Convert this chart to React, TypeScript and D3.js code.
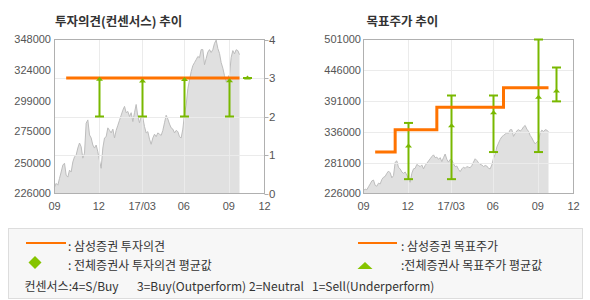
import React from 'react';
import * as d3 from 'd3';

// closing prices, one sample every ~2.5 trading days (index domain 0..126)
const prices = [
  231000, 234000, 232600, 238000, 243000, 248500, 250000, 240500, 239000, 244500,
  243000, 251000, 255000, 256500, 262000, 266000, 263000, 254000, 258000, 281700,
  284300, 272400, 270000, 264400, 262000, 264400, 259000, 252000, 246000, 262000,
  270000, 271000, 278000, 276000, 274000, 277000, 270000, 276000, 280000, 284000,
  288000, 292000, 295000, 290000, 291000, 287000, 290000, 283000, 290000, 296500,
  287000, 282000, 287000, 286000, 279000, 274000, 275000, 269000, 265000, 270000,
  273000, 271000, 274000, 273000, 272000, 276000, 282000, 288000, 285000, 281000,
  278000, 277000, 274000, 276000, 275000, 271000, 270000, 277000, 289000, 296000,
  309000, 316000, 322500, 327300, 329700, 332000, 334500, 333600, 340000, 340000,
  328000, 333000, 338000, 340000, 337700, 340000, 345000, 347500, 340900, 337000,
  329700, 325300, 319300, 314600, 317800, 320100, 333700, 339200, 336600, 339900,
  339200, 336000,
];

const xDomainEnd = 126;
const xTickPos = [0, 26.6, 52.6, 77.6, 104.6, 126];
const xTickLabels = ['09', '12', '17/03', '06', '09', '12'];

const leftPriceTicks = [226000, 250000, 275000, 299000, 324000, 348000];
const opinionTicks = [0, 1, 2, 3, 4];
const targetTicks = [226000, 281000, 336000, 391000, 446000, 501000];

const opinionLine = [
  { i: 7, v: 3 },
  { i: 111, v: 3 },
];
const targetLine = [
  { i: 7, v: 300000 },
  { i: 19, v: 340000 },
  { i: 44, v: 380000 },
  { i: 84, v: 415000 },
  { i: 111, v: 415000 },
];

const opinionBars = [
  { i: 26.6, lo: 2, hi: 3, mean: 2.97 },
  { i: 52.6, lo: 2, hi: 3, mean: 2.92 },
  { i: 77.6, lo: 2, hi: 3, mean: 2.96 },
  { i: 104.6, lo: 2, hi: 3, mean: 2.93 },
  { i: 115.3, lo: 3, hi: 3, mean: 3 },
];
const targetBars = [
  { i: 26.6, lo: 251600, hi: 352000, mean: 311000 },
  { i: 52.6, lo: 251600, hi: 401000, mean: 347000 },
  { i: 77.6, lo: 300000, hi: 401000, mean: 370000 },
  { i: 104.6, lo: 300000, hi: 501000, mean: 398000 },
  { i: 115.3, lo: 390500, hi: 451000, mean: 409000 },
];

const ORANGE = '#ff7300';
const GREEN = '#79b800';
const GRID = '#ebebeb';
const AXIS = '#b0b0b0';
const LABEL = '#555';
const NUM_FONT = '"Liberation Sans", Arial, sans-serif';
const KR_FONT = '"Noto Sans CJK KR", "Noto Sans", sans-serif';

const TOP = 39.5;
const BOTTOM = 193.5;

type Bar = { i: number; lo: number; hi: number; mean: number };

function ErrorBars({ bars, x, y }: { bars: Bar[]; x: d3.ScaleLinear<number, number>; y: d3.ScaleLinear<number, number> }) {
  return (
    <g stroke={GREEN} strokeWidth={2} fill="none">
      {bars.map((b, k) => {
        const cx = Math.round(x(b.i)) + 0.5;
        return (
          <g key={k}>
            <line x1={cx} x2={cx} y1={y(b.hi)} y2={y(b.lo)} />
            <line x1={cx - 4.5} x2={cx + 4.5} y1={y(b.hi)} y2={y(b.hi)} />
            <line x1={cx - 4.5} x2={cx + 4.5} y1={y(b.lo)} y2={y(b.lo)} />
          </g>
        );
      })}
    </g>
  );
}

function MeanMarks({ bars, x, y }: { bars: Bar[]; x: d3.ScaleLinear<number, number>; y: d3.ScaleLinear<number, number> }) {
  return (
    <g fill={GREEN} stroke="none">
      {bars.map((b, k) => {
        const cx = Math.round(x(b.i)) + 0.5;
        const cy = y(b.mean);
        return <path key={k} d={`M${cx},${cy - 2.5}L${cx + 3.5},${cy + 1.5}L${cx - 3.5},${cy + 1.5}Z`} />;
      })}
    </g>
  );
}

export default function App() {
  // ---------- left panel ----------
  const xL = d3.scaleLinear().domain([0, xDomainEnd]).range([54.5, 264.5]);
  const yLP = d3.scaleLinear().domain([226000, 348000]).range([BOTTOM, TOP]);
  const yO = d3.scaleLinear().domain([0, 4]).range([BOTTOM, TOP]);

  // ---------- right panel ----------
  const xR = d3.scaleLinear().domain([0, xDomainEnd]).range([363.5, 573.5]);
  const yR = d3.scaleLinear().domain([226000, 501000]).range([BOTTOM, TOP]);

  const areaL = d3
    .area<number>()
    .x((_, i) => xL(i))
    .y0(BOTTOM)
    .y1((d) => yLP(d))(prices) as string;
  const lineL = d3
    .line<number>()
    .x((_, i) => xL(i))
    .y((d) => yLP(d))(prices) as string;
  const areaR = d3
    .area<number>()
    .x((_, i) => xR(i))
    .y0(BOTTOM)
    .y1((d) => yR(d))(prices) as string;
  const lineR = d3
    .line<number>()
    .x((_, i) => xR(i))
    .y((d) => yR(d))(prices) as string;

  const opPath = d3
    .line<{ i: number; v: number }>()
    .x((d) => xL(d.i))
    .y((d) => yO(d.v))(opinionLine) as string;
  const tgPath = d3
    .line<{ i: number; v: number }>()
    .x((d) => xR(d.i))
    .y((d) => yR(d.v))
    .curve(d3.curveStepAfter)(targetLine) as string;

  const frame = (x: d3.ScaleLinear<number, number>) => {
    const [a, b] = x.range();
    return <rect x={a} y={TOP} width={b - a} height={BOTTOM - TOP} fill="none" stroke={AXIS} strokeWidth={1} />;
  };

  const xGrid = (x: d3.ScaleLinear<number, number>) =>
    xTickPos.slice(1, -1).map((t, k) => {
      const px = Math.round(x(t)) + 0.5;
      return <line key={'vg' + k} x1={px} x2={px} y1={TOP} y2={BOTTOM} stroke={GRID} strokeWidth={1} />;
    });

  const xLabels = (x: d3.ScaleLinear<number, number>) =>
    xTickPos.map((t, k) => (
      <text key={'xl' + k} x={x(t)} y={210} textAnchor="middle" fontSize={11} fill={LABEL} fontFamily={NUM_FONT}>
        {xTickLabels[k]}
      </text>
    ));

  return (
    <div style={{ position: 'absolute', left: 0, top: 0, width: 590, height: 300, background: '#fff' }}>
      <svg width={590} height={300} style={{ display: 'block' }}>
        <rect x={0} y={0} width={590} height={300} fill="#fff" />

        {/* titles */}
        <text x={55} y={26} fontSize={12.5} fontWeight="bold" fill="#333" fontFamily={KR_FONT}>
          투자의견(컨센서스) 추이
        </text>
        <text x={366.5} y={26} fontSize={12.5} fontWeight="bold" fill="#333" fontFamily={KR_FONT}>
          목표주가 추이
        </text>

        {/* ===== left panel ===== */}
        <path d={areaL} fill="#e0e0e0" stroke="none" />
        <path d={lineL} fill="none" stroke="#bdbdbd" strokeWidth={1} />
        {xGrid(xL)}
        {opinionTicks.slice(1, -1).map((t) => {
          const py = Math.round(yO(t)) + 0.5;
          return <line key={'hg' + t} x1={xL.range()[0]} x2={xL.range()[1]} y1={py} y2={py} stroke={GRID} strokeWidth={1} />;
        })}
        {frame(xL)}
        {opinionTicks.map((t) => {
          const py = Math.round(yO(t)) + 0.5;
          return (
            <g key={'ot' + t}>
              <line x1={264.5} x2={268.5} y1={py} y2={py} stroke={AXIS} />
              <text x={269} y={yO(t)} dy="0.35em" fontSize={11.5} fill={LABEL} fontFamily={NUM_FONT}>
                {t}
              </text>
            </g>
          );
        })}
        {leftPriceTicks.map((t) => (
          <text key={'lp' + t} x={51} y={yLP(t)} dy="0.35em" textAnchor="end" fontSize={11} fill={LABEL} fontFamily={NUM_FONT}>
            {t}
          </text>
        ))}
        {xLabels(xL)}
        <ErrorBars bars={opinionBars} x={xL} y={yO} />
        <path d={opPath} fill="none" stroke={ORANGE} strokeWidth={3} />
        <MeanMarks bars={opinionBars} x={xL} y={yO} />

        {/* ===== right panel ===== */}
        <path d={areaR} fill="#e0e0e0" stroke="none" />
        <path d={lineR} fill="none" stroke="#bdbdbd" strokeWidth={1} />
        {xGrid(xR)}
        {targetTicks.slice(1, -1).map((t) => {
          const py = Math.round(yR(t)) + 0.5;
          return <line key={'rg' + t} x1={xR.range()[0]} x2={xR.range()[1]} y1={py} y2={py} stroke={GRID} strokeWidth={1} />;
        })}
        {frame(xR)}
        {targetTicks.map((t) => (
          <text key={'rt' + t} x={361} y={yR(t)} dy="0.35em" textAnchor="end" fontSize={11} fill={LABEL} fontFamily={NUM_FONT}>
            {t}
          </text>
        ))}
        {xLabels(xR)}
        <ErrorBars bars={targetBars} x={xR} y={yR} />
        <path d={tgPath} fill="none" stroke={ORANGE} strokeWidth={3} />
        <MeanMarks bars={targetBars} x={xR} y={yR} />

        {/* ===== legend ===== */}
        <rect x={8.5} y={228.5} width={574} height={70} fill="#f7f7f7" stroke="#dddddd" />
        <g fontFamily={KR_FONT} fontSize={12} fill="#333">
          <line x1={26} x2={66} y1={243} y2={243} stroke={ORANGE} strokeWidth={2} />
          <text x={68} y={245} dominantBaseline="central">: 삼성증권 투자의견</text>
          <line x1={358} x2={397} y1={243} y2={243} stroke={ORANGE} strokeWidth={2} />
          <text x={401} y={245} dominantBaseline="central">: 삼성증권 목표주가</text>

          <path d="M35,256L41.5,262.5L35,269L28.5,262.5Z" fill="#86c400" />
          <text x={68} y={264.5} dominantBaseline="central">: 전체증권사 투자의견 평균값</text>
          <path d="M365,262L372.5,269L357.5,269Z" fill="#86c400" />
          <text x={401} y={264.5} dominantBaseline="central">:전체증권사 목표주가 평균값</text>

          <text x={24.5} y={285} dominantBaseline="central">컨센서스:4=S/Buy</text>
          <text x={137} y={285} dominantBaseline="central">3=Buy(Outperform)</text>
          <text x={249} y={285} dominantBaseline="central">2=Neutral</text>
          <text x={312} y={285} dominantBaseline="central">1=Sell(Underperform)</text>
        </g>
      </svg>
    </div>
  );
}
